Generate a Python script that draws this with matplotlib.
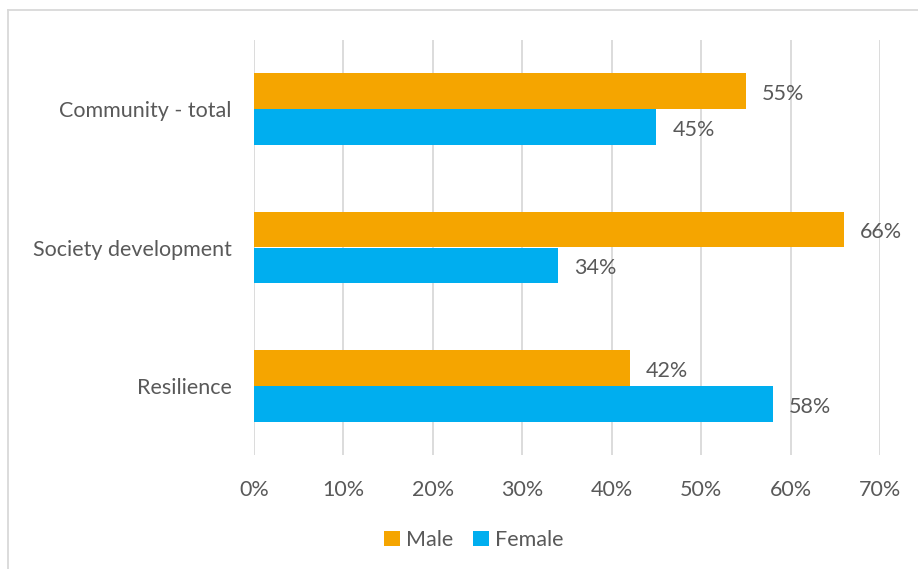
import matplotlib.pyplot as plt
import numpy as np
from matplotlib.lines import Line2D

categories = ['Community - total', 'Society development', 'Resilience']
male = [55, 66, 42]
female = [45, 34, 58]
xticks = [0, 10, 20, 30, 40, 50, 60, 70]

c_male = '#F5A500'
c_female = '#00AEEF'
c_text = '#595959'

plt.rcParams['font.family'] = ['Lato', 'DejaVu Sans']
fs = 15.5

W, H = 918, 569
fig = plt.figure(figsize=(W / 100, H / 100), dpi=100)
ax = fig.add_axes([254 / W, 1 - 455 / H, (880 - 254) / W, (455 - 40) / H])

y = np.arange(len(categories))
bh = 0.26
ax.barh(y - bh / 2, male, height=bh, color=c_male, label='Male')
ax.barh(y + bh / 2, female, height=bh, color=c_female, label='Female')

for yi, m, f in zip(y, male, female):
    ax.text(m + 1.8, yi - bh / 2 + 0.02, f'{m}%', va='center', ha='left', fontsize=fs, color=c_text)
    ax.text(f + 1.8, yi + bh / 2 + 0.02, f'{f}%', va='center', ha='left', fontsize=fs, color=c_text)

ax.set_ylim(len(categories) - 0.5, -0.5)
ax.set_xlim(0, 70)
ax.set_yticks(y)
ax.set_yticklabels(categories, fontsize=fs, color=c_text)
ax.set_xticks(xticks)
ax.set_xticklabels([f'{t}%' for t in xticks], fontsize=fs, color=c_text)
ax.tick_params(length=0)
ax.tick_params(axis='y', pad=16)
ax.tick_params(axis='x', pad=18)
ax.grid(axis='x', color='#D9D9D9', linewidth=1.3)
ax.set_axisbelow(True)
for s in ax.spines.values():
    s.set_visible(False)

fig.legend(loc='center', bbox_to_anchor=(0.516, 1 - 540 / H), ncol=2, frameon=False,
           fontsize=fs, labelcolor=c_text, handlelength=0.75, handleheight=0.75,
           handletextpad=0.3, columnspacing=0.9)

# chart frame: only top and left edges show in the crop
fig.lines.append(Line2D([8 / W, 1], [1 - 10 / H, 1 - 10 / H], transform=fig.transFigure,
                        color='#D9D9D9', linewidth=1.3))
fig.lines.append(Line2D([8 / W, 8 / W], [0, 1 - 10 / H], transform=fig.transFigure,
                        color='#D9D9D9', linewidth=1.3))

fig.savefig('out.png', dpi=100)
